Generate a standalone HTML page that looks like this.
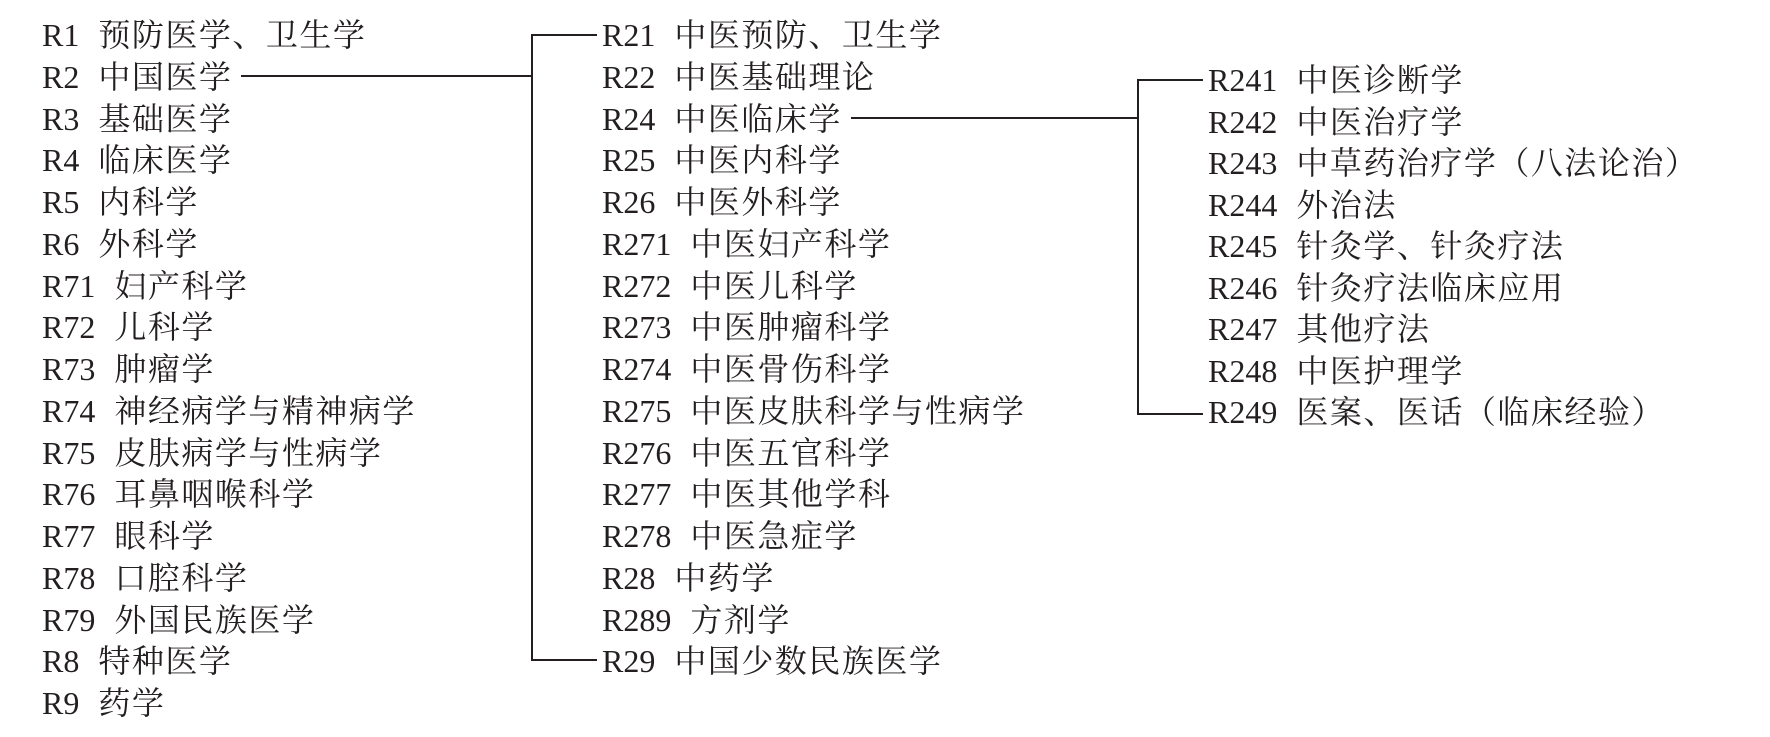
<!DOCTYPE html>
<html><head><meta charset="utf-8"><style>
body{margin:0;width:1770px;height:737px;background:#fff;position:relative;overflow:hidden;font-family:"Liberation Serif","Noto Serif CJK SC",serif;font-size:32px;color:#231f20}
.t{position:absolute;line-height:36px;white-space:nowrap}
.t b{font-weight:normal;margin-right:19px}
.t i{font-style:normal;letter-spacing:1.5px}
.l{position:absolute;background:#231f20}
</style></head><body>
<div id="c"></div>
<div class="l" style="left:241px;top:75px;width:292px;height:2px"></div>
<div class="l" style="left:531px;top:34px;width:2px;height:627px"></div>
<div class="l" style="left:531px;top:34px;width:66px;height:2px"></div>
<div class="l" style="left:531px;top:659px;width:66px;height:2px"></div>
<div class="l" style="left:851px;top:117px;width:288px;height:2px"></div>
<div class="l" style="left:1137px;top:79px;width:2px;height:336px"></div>
<div class="l" style="left:1137px;top:79px;width:66px;height:2px"></div>
<div class="l" style="left:1137px;top:413px;width:66px;height:2px"></div>
<script>
var L=[["R1","预防医学、卫生学"],["R2","中国医学"],["R3","基础医学"],["R4","临床医学"],["R5","内科学"],["R6","外科学"],["R71","妇产科学"],["R72","儿科学"],["R73","肿瘤学"],["R74","神经病学与精神病学"],["R75","皮肤病学与性病学"],["R76","耳鼻咽喉科学"],["R77","眼科学"],["R78","口腔科学"],["R79","外国民族医学"],["R8","特种医学"],["R9","药学"]];
var M=[["R21","中医预防、卫生学"],["R22","中医基础理论"],["R24","中医临床学"],["R25","中医内科学"],["R26","中医外科学"],["R271","中医妇产科学"],["R272","中医儿科学"],["R273","中医肿瘤科学"],["R274","中医骨伤科学"],["R275","中医皮肤科学与性病学"],["R276","中医五官科学"],["R277","中医其他学科"],["R278","中医急症学"],["R28","中药学"],["R289","方剂学"],["R29","中国少数民族医学"]];
var R=[["R241","中医诊断学"],["R242","中医治疗学"],["R243","中草药治疗学（八法论治）"],["R244","外治法"],["R245","针灸学、针灸疗法"],["R246","针灸疗法临床应用"],["R247","其他疗法"],["R248","中医护理学"],["R249","医案、医话（临床经验）"]];
var h="";
function add(a,x,y0,s){a.forEach(function(e,i){h+='<div class="t" style="left:'+x+'px;top:'+(y0+i*s-18)+'px"><b>'+e[0]+'</b><i>'+e[1]+'</i></div>';});}
add(L,42,35,41.75);add(M,602,35,41.75);add(R,1208,80,41.5);
document.getElementById("c").innerHTML=h;
</script>
</body></html>
